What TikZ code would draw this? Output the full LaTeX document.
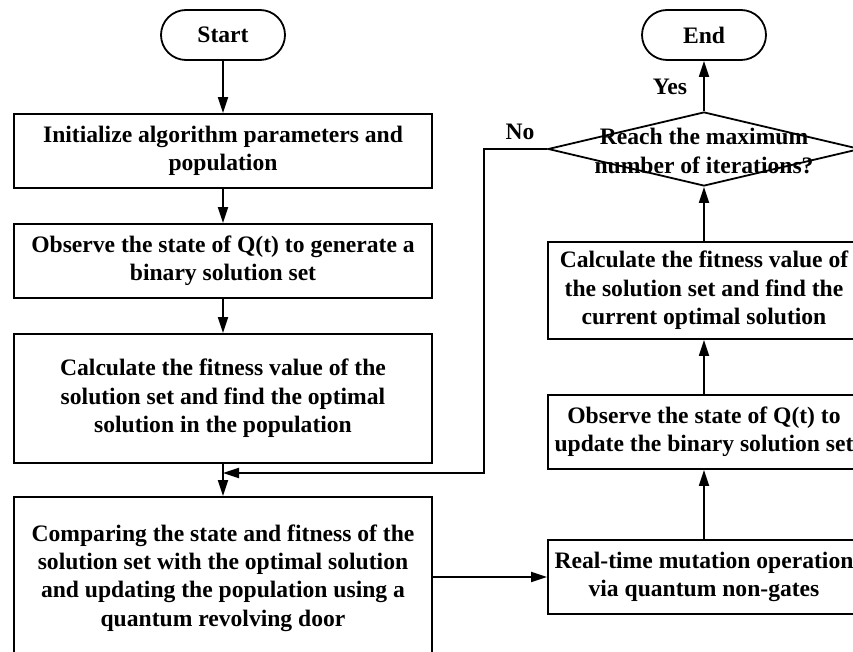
\documentclass[tikz,border=0pt]{standalone}
\usepackage{fontspec}
\setmainfont{Liberation Serif}
\usetikzlibrary{arrows.meta,shapes.geometric}
\begin{document}
\begin{tikzpicture}[x=1pt,y=-1pt,
  every node/.style={font=\bfseries\fontsize{23.6}{28.4}\selectfont},
  box/.style={draw,line width=1.8pt,rectangle,inner sep=0pt,align=center},
  term/.style={draw,line width=1.8pt,rectangle,rounded corners=25pt,minimum width=124pt,minimum height=50pt,inner sep=0pt},
  conn/.style={line width=1.8pt,-{Triangle[length=16pt,width=10pt]}},
  plain/.style={line width=1.8pt}]
\clip (0,0) rectangle (853,652);
\useasboundingbox (0,0) rectangle (853,652);
% left column
\node[term] (start) at (223,35) {Start};
\node[box,minimum width=418pt,minimum height=74pt] (init) at (223,151) {Initialize algorithm parameters and\\population};
\node[box,minimum width=418pt,minimum height=74pt] (obs) at (223,261) {Observe the state of Q(t) to generate a\\binary solution set};
\node[box,minimum width=418pt,minimum height=129pt] (calc) at (223,398.5) {Calculate the fitness value of the\\solution set and find the optimal\\solution in the population};
\node[box,minimum width=418pt,minimum height=162pt] (comp) at (223,578) {Comparing the state and fitness of the\\solution set with the optimal solution\\and updating the population using a\\quantum revolving door};
% right column
\node[term] (end) at (704,35) {End};
\node[draw,line width=1.8pt,diamond,inner sep=0pt,minimum width=312pt,minimum height=74pt] (dia) at (704,149) {};
\node[align=center] (diatext) at (704,151) {Reach the maximum\\number of iterations?};
\node[box,minimum width=312pt,minimum height=97pt] (calcr) at (704,290.5) {Calculate the fitness value of\\the solution set and find the\\current optimal solution};
\node[box,minimum width=312pt,minimum height=74pt] (obsr) at (704,432) {Observe the state of Q(t) to\\update the binary solution set};
\node[box,minimum width=312pt,minimum height=74pt] (mut) at (704,577) {Real-time mutation operation\\via quantum non-gates};
% connectors
\draw[conn] (start) -- (init);
\draw[conn] (init) -- (obs);
\draw[conn] (obs) -- (calc);
\draw[conn] (calc) -- (comp);
\draw[conn] (comp.east |- mut.west) -- (mut.west);
\draw[conn] (mut) -- (obsr);
\draw[conn] (obsr) -- (calcr);
\draw[conn] (calcr) -- (dia.south);
\draw[conn] (dia.north) -- (end);
\coordinate (c1) at (484,149);
\coordinate (c2) at (484,473);
\coordinate (c3) at (223,473);
\draw[conn] (dia.west) -- (c1) -- (c2) -- (c3);
\node (yes) at (670,87) {Yes};
\node (no) at (520,132) {No};
\end{tikzpicture}
\end{document}
